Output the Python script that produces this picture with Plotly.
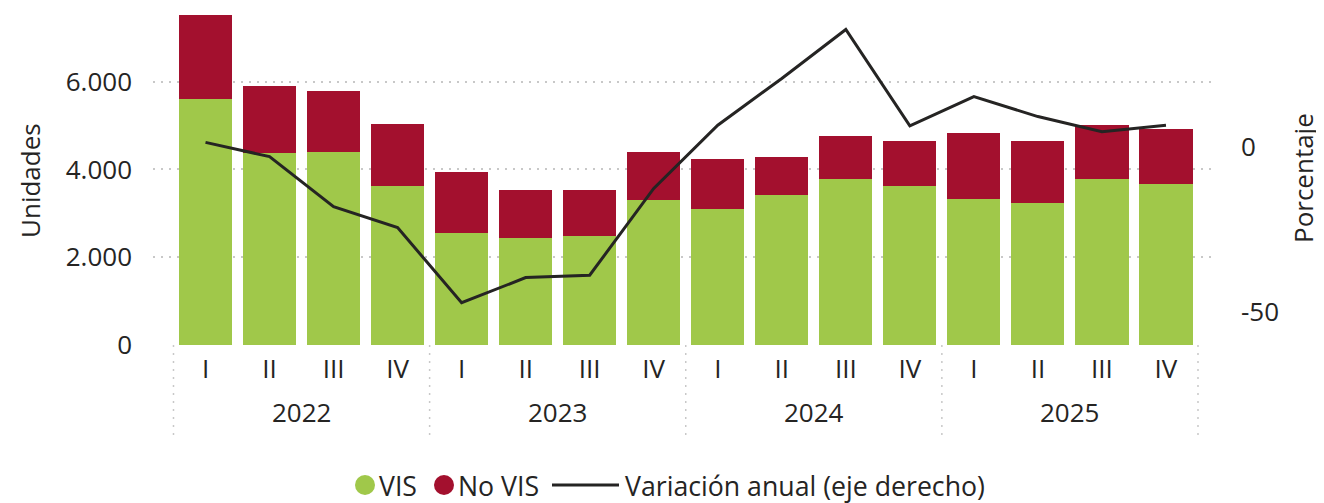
import plotly.graph_objects as go

# ---------------- data ----------------
years = ["2022", "2023", "2024", "2025"]
quarters = ["I", "II", "III", "IV"]
vis = [5597, 4367, 4403, 3629, 2558, 2437, 2476, 3303,
       3091, 3417, 3788, 3629, 3333, 3228, 3788, 3674]
no_vis = [1920, 1540, 1390, 1412, 1390, 1094, 1055, 1100,
          1139, 866, 966, 1018, 1503, 1419, 1217, 1240]
variacion = [1.3, -3.0, -18.1, -24.4, -47.1, -39.5, -38.8, -12.6,
             6.5, 20.6, 35.4, 6.3, 15.1, 9.1, 4.5, 6.5]
left_ticks = [0, 2000, 4000, 6000]
right_ticks = [-50, 0]

GREEN = "#A0C84A"
RED = "#A3102E"
LINE = "#252423"
TXT = "#252423"
FONT = "Open Sans"
FS = 26

keys = [f"{y} {q}" for y in years for q in quarters]
tick_q = [q for y in years for q in quarters]

# layout geometry (pixels); the page body adds an 8px offset
OFF = 8
W, H = 1324 - OFF, 503 - OFF
L, R, T, B = 145, 110, 0, 158
PW, PH = W - L - R, H - T - B


def px_x(x):
    return (x - OFF - L) / PW


def px_y(y):
    return (H - B - (y - OFF)) / PH


fig = go.Figure()
fig.add_bar(x=keys, y=vis, name="VIS", marker=dict(color=GREEN, line=dict(width=0)),
            showlegend=False)
fig.add_bar(x=keys, y=no_vis, name="No VIS", marker=dict(color=RED, line=dict(width=0)),
            showlegend=False)
fig.add_scatter(x=keys, y=variacion, yaxis="y2", mode="lines",
                name="Variación anual (eje derecho)",
                line=dict(color=LINE, width=3), showlegend=False)

annotations = []
shapes = []
font = dict(size=FS, color=TXT, family=FONT)
lfont = dict(size=26.7, color=TXT, family=FONT)

# year labels and dotted dividers
n_q = len(quarters)
for i, yr in enumerate(years):
    annotations.append(dict(x=i * n_q + (n_q - 1) / 2, y=px_y(412), xref="x", yref="paper",
                            text=yr, showarrow=False, font=font,
                            xanchor="center", yanchor="middle"))
for i in range(len(years) + 1):
    shapes.append(dict(type="line", xref="x", yref="paper", x0=i * n_q - 0.5, x1=i * n_q - 0.5,
                       y0=0, y1=px_y(437), line=dict(color="#C8C8C8", width=1.5, dash="2px,6px")))

# axis titles
annotations.append(dict(x=px_x(30), y=px_y(180), xref="paper", yref="paper", text="Unidades",
                        textangle=-90, showarrow=False, font=font,
                        xanchor="center", yanchor="middle"))
annotations.append(dict(x=px_x(1303), y=px_y(178), xref="paper", yref="paper", text="Porcentaje",
                        textangle=-90, showarrow=False, font=font,
                        xanchor="center", yanchor="middle"))

# manual legend
ly = px_y(485)
shapes.append(dict(type="circle", xref="paper", yref="paper", x0=px_x(355), x1=px_x(375),
                   y0=px_y(495), y1=px_y(475), fillcolor=GREEN, line=dict(width=0)))
annotations.append(dict(x=px_x(377), y=ly, xref="paper", yref="paper", text="VIS",
                        showarrow=False, font=lfont, xanchor="left", yanchor="middle"))
shapes.append(dict(type="circle", xref="paper", yref="paper", x0=px_x(434), x1=px_x(454),
                   y0=px_y(495), y1=px_y(475), fillcolor=RED, line=dict(width=0)))
annotations.append(dict(x=px_x(456), y=ly, xref="paper", yref="paper", text="No VIS",
                        showarrow=False, font=lfont, xanchor="left", yanchor="middle"))
shapes.append(dict(type="line", xref="paper", yref="paper", x0=px_x(552), x1=px_x(619),
                   y0=px_y(485), y1=px_y(485), line=dict(color=LINE, width=3)))
annotations.append(dict(x=px_x(623), y=ly, xref="paper", yref="paper",
                        text="Variación anual (eje derecho)",
                        showarrow=False, font=lfont, xanchor="left", yanchor="middle"))

fig.update_layout(
    width=W, height=H,
    margin=dict(l=L, r=R, t=T, b=B, pad=0),
    paper_bgcolor="white", plot_bgcolor="white",
    barmode="stack", bargap=0.17,
    separators=",.",
    font=font,
    showlegend=False,
    xaxis=dict(type="category", range=[-0.82, 15.75], tickvals=keys, ticktext=tick_q,
               showgrid=False, zeroline=False, showline=False, ticks="",
               tickfont=font, ticklabelstandoff=6),
    yaxis=dict(range=[0, 7680], tickvals=left_ticks, tickformat=",d",
               showgrid=True, gridcolor="#C8C8C8", gridwidth=1.5, griddash="2px,6px",
               zeroline=False, showline=False, ticks="",
               tickfont=font, ticklabelstandoff=20),
    yaxis2=dict(range=[-59.85, 41.87], tickvals=right_ticks,
                ticktext=[str(v) for v in right_ticks], overlaying="y", side="right",
                showgrid=False, zeroline=False, showline=False, ticks="",
                tickfont=font, ticklabelstandoff=26),
    annotations=annotations,
    shapes=shapes,
)

fig.write_html("out.html")
